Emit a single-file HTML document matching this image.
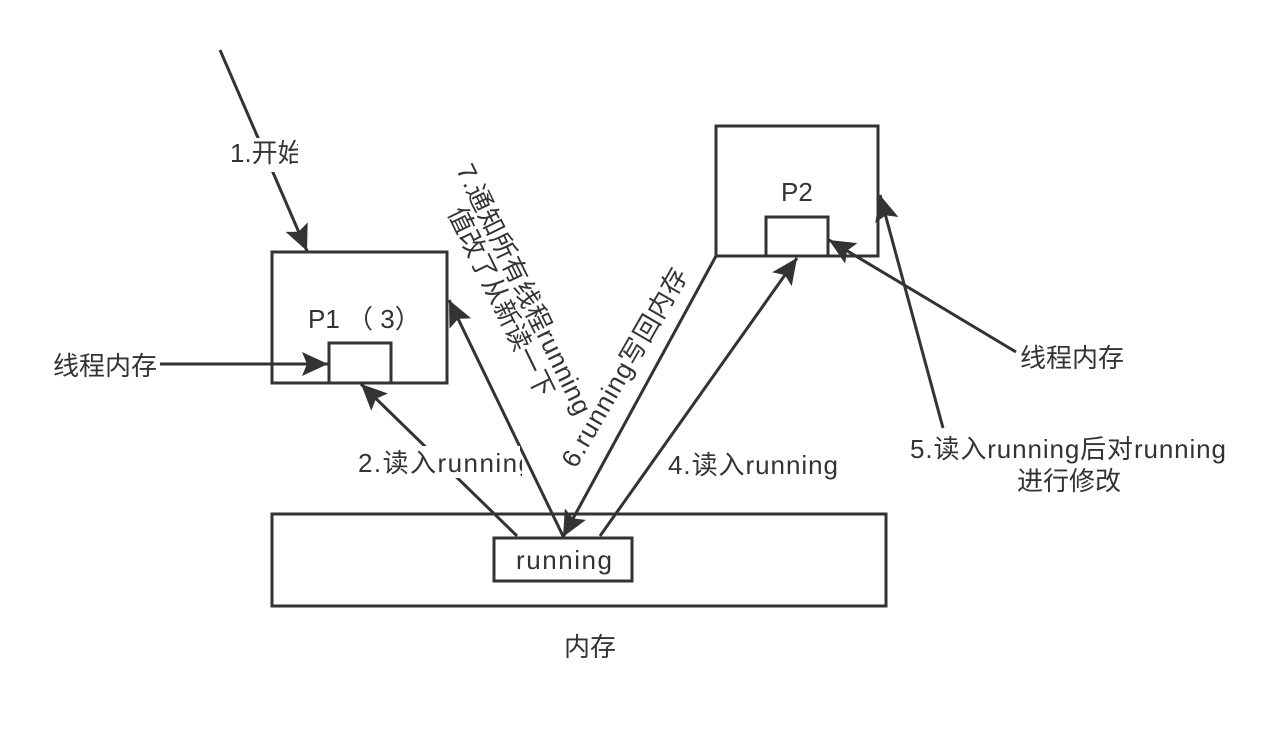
<!DOCTYPE html>
<html><head><meta charset="utf-8"><style>
html,body{margin:0;padding:0;background:#fff;}
svg{display:block;}
text{font-family:"Liberation Sans","Noto Sans CJK SC",sans-serif;fill:#333;font-size:26px;}
</style></head><body>
<svg width="1278" height="736" viewBox="0 0 1278 736" xmlns="http://www.w3.org/2000/svg">
<defs>
<marker id="a" markerUnits="userSpaceOnUse" markerWidth="30" markerHeight="26" refX="26" refY="12" orient="auto">
<path d="M0,0 L26,12 L0,24 L5,12 Z" fill="#333"/>
</marker>
</defs>
<g stroke="#333" stroke-width="3" fill="none">
<rect x="272" y="252" width="175" height="131"/>
<rect x="329" y="343" width="62" height="40"/>
<rect x="716" y="126" width="162" height="130"/>
<rect x="766" y="217" width="62" height="39"/>
<rect x="272" y="514" width="614" height="92"/>
<rect x="494" y="538" width="138" height="43"/>
<line x1="220" y1="50" x2="307" y2="251" marker-end="url(#a)"/>
<line x1="160" y1="364" x2="328" y2="364" marker-end="url(#a)"/>
<line x1="517" y1="536" x2="361" y2="384" marker-end="url(#a)"/>
<line x1="563" y1="536" x2="449" y2="300" marker-end="url(#a)"/>
<line x1="716" y1="256" x2="563" y2="537" marker-end="url(#a)"/>
<line x1="600" y1="536" x2="797" y2="258" marker-end="url(#a)"/>
<line x1="1016" y1="352" x2="829" y2="240" marker-end="url(#a)"/>
<line x1="943" y1="428" x2="880" y2="195" marker-end="url(#a)"/>
</g>
<rect x="228" y="138" width="70" height="34" fill="#fff"/>
<svg x="228" y="130" width="70" height="44" overflow="hidden"><text x="2" y="32">1.开始</text></svg>
<rect x="355" y="446" width="165" height="32" fill="#fff"/>
<svg x="355" y="440" width="167" height="40" overflow="hidden"><text x="3" y="32" textLength="175">2.读入running</text></svg>
<text x="53" y="375">线程内存</text>
<text x="308" y="328">P1 （ 3）</text>
<text x="781" y="201">P2</text>
<text x="1020" y="367">线程内存</text>
<text x="668" y="474" textLength="170">4.读入running</text>
<text x="910" y="458" textLength="316">5.读入running后对running</text>
<text x="1017" y="490">进行修改</text>
<text x="516" y="569" textLength="96">running</text>
<text x="564" y="656">内存</text>
<text x="0" y="0" text-anchor="middle" textLength="275" transform="translate(516,293) rotate(64)">7.通知所有线程running</text>
<text x="0" y="0" text-anchor="middle" transform="translate(493,306) rotate(64)">值改了从新读一下</text>
<text x="0" y="0" text-anchor="middle" textLength="225" transform="translate(632,372) rotate(-60)">6.running写回内存</text>
</svg>
</body></html>
